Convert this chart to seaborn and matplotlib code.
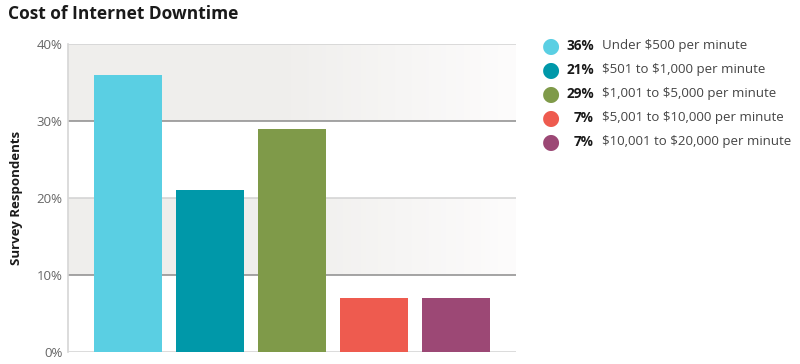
import matplotlib.pyplot as plt
import seaborn as sns
import numpy as np
from matplotlib.colors import LinearSegmentedColormap

categories = ['Under $500 per minute', '$501 to $1,000 per minute',
              '$1,001 to $5,000 per minute', '$5,001 to $10,000 per minute',
              '$10,001 to $20,000 per minute']
values = [36, 21, 29, 7, 7]
colors = ['#5acfe3', '#0098a9', '#7f9a49', '#ee5b4f', '#9c4875']
y_ticks = [0, 10, 20, 30, 40]

sns.set_style('white')
plt.rcParams['font.family'] = ['Open Sans', 'DejaVu Sans']

fig = plt.figure(figsize=(8, 3.64), dpi=100)
ax = fig.add_axes([68 / 800, 12 / 364, 448 / 800, 308 / 364])

sns.barplot(x=categories, y=values, hue=categories, palette=colors,
            width=0.83, legend=False, ax=ax, saturation=1, zorder=3,
            linewidth=0)

# alternating banded background with a light horizontal gradient
grad = LinearSegmentedColormap.from_list('band', ['#efeeec', '#f0efed', '#fdfcfc'])
g = np.linspace(0, 1, 256).reshape(1, -1)
for lo in (10, 30):
    ax.imshow(g, cmap=grad, aspect='auto', extent=(-0.73, 4.73, lo, lo + 10),
              zorder=0, interpolation='bicubic')
ax.set_xlim(-0.73, 4.73)
ax.set_ylim(0, 40)

for t in y_ticks:
    c = '#8c8c8c' if t in (10, 30) else '#d2d2d2'
    ax.axhline(t, color=c, lw=1.1, zorder=1)

for side in ['top', 'right', 'bottom']:
    ax.spines[side].set_visible(False)
ax.spines['left'].set_color('#d6d6d6')
ax.spines['left'].set_linewidth(1.2)

ax.set_yticks(y_ticks)
ax.set_yticklabels([f'{t}%' for t in y_ticks], color='#666666', fontsize=9.5)
ax.tick_params(axis='y', length=0, pad=4)
ax.set_xticks([])
ax.set_xlabel('')
ax.set_ylabel('Survey Respondents', fontsize=9.5, fontweight='bold',
              color='#1a1a1a', labelpad=10)

fig.text(8 / 800, 1 - 14 / 364, 'Cost of Internet Downtime', fontsize=12.5,
         fontweight='bold', color='#1a1a1a', va='center', ha='left')

# custom legend
for i, (cat, val, col) in enumerate(zip(categories, values, colors)):
    y = 1 - (46 + 24 * i) / 364
    fig.text(551 / 800, y, '\u25CF', color=col, fontsize=15, ha='center',
             va='center', family=['DejaVu Sans'])
    fig.text(594 / 800, y, f'{val}%', fontsize=9.8, fontweight='bold',
             color='#1a1a1a', ha='right', va='center')
    fig.text(602 / 800, y, cat, fontsize=9.5, color='#444444',
             ha='left', va='center', parse_math=False)

fig.savefig('out.png', dpi=100)
